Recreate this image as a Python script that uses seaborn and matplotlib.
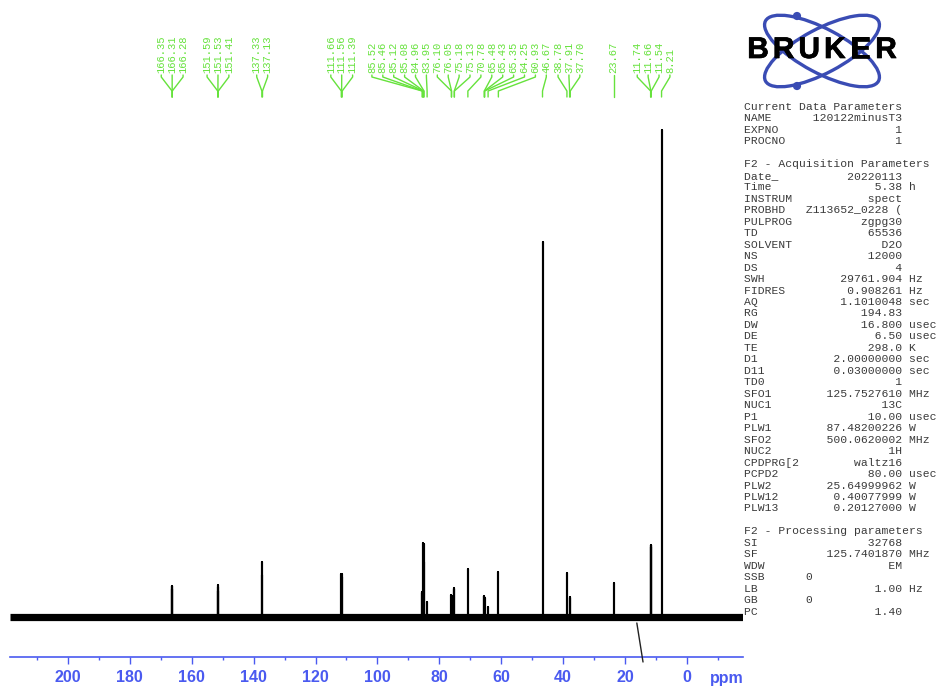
import numpy as np
import pandas as pd
import matplotlib
matplotlib.use("Agg")
import matplotlib.pyplot as plt
import matplotlib.patheffects as pe
import seaborn as sns
from matplotlib.patches import Ellipse, Circle

# ---------------- data ----------------
# picked peaks (ppm) and their intensities (arbitrary units, baseline = 0)
peak_ppm = [166.35, 166.31, 166.28, 151.59, 151.53, 151.41, 137.33, 137.13,
            111.66, 111.56, 111.39, 85.52, 85.46, 85.12, 85.08, 84.96, 83.95,
            76.10, 76.05, 75.18, 75.13, 70.78, 65.48, 65.43, 65.35, 64.25,
            60.93, 46.67, 38.78, 37.91, 37.70, 23.67, 11.74, 11.66, 11.54, 8.21]
peak_int = [31, 31, 28, 32, 30, 26, 55, 42,
            43, 43, 40, 25, 24, 74, 73, 55, 15,
            22, 21, 29, 28, 48, 21, 21, 19, 10,
            45, 375, 44, 20, 19, 34, 72, 72, 70, 487]

ppm_major = [200, 180, 160, 140, 120, 100, 80, 60, 40, 20, 0]
ppm_minor = [210, 190, 170, 150, 130, 110, 90, 70, 50, 30, 10, -10]
ppm_range = (218.7, -18.1)

acq_info = [
    ("Current Data Parameters", None, None),
    ("NAME", "120122minusT3", ""),
    ("EXPNO", "1", ""),
    ("PROCNO", "1", ""),
    ("", None, None),
    ("F2 - Acquisition Parameters", None, None),
    ("Date_", "20220113", ""),
    ("Time", "5.38", "h"),
    ("INSTRUM", "spect", ""),
    ("PROBHD", "Z113652_0228 (", ""),
    ("PULPROG", "zgpg30", ""),
    ("TD", "65536", ""),
    ("SOLVENT", "D2O", ""),
    ("NS", "12000", ""),
    ("DS", "4", ""),
    ("SWH", "29761.904", "Hz"),
    ("FIDRES", "0.908261", "Hz"),
    ("AQ", "1.1010048", "sec"),
    ("RG", "194.83", ""),
    ("DW", "16.800", "usec"),
    ("DE", "6.50", "usec"),
    ("TE", "298.0", "K"),
    ("D1", "2.00000000", "sec"),
    ("D11", "0.03000000", "sec"),
    ("TD0", "1", ""),
    ("SFO1", "125.7527610", "MHz"),
    ("NUC1", "13C", ""),
    ("P1", "10.00", "usec"),
    ("PLW1", "87.48200226", "W"),
    ("SFO2", "500.0620002", "MHz"),
    ("NUC2", "1H", ""),
    ("CPDPRG[2", "waltz16", ""),
    ("PCPD2", "80.00", "usec"),
    ("PLW2", "25.64999962", "W"),
    ("PLW12", "0.40077999", "W"),
    ("PLW13", "0.20127000", "W"),
    ("", None, None),
    ("F2 - Processing parameters", None, None),
    ("SI", "32768", ""),
    ("SF", "125.7401870", "MHz"),
    ("WDW", "EM", ""),
    ("SSB", "0", "left"),
    ("LB", "1.00", "Hz"),
    ("GB", "0", "left"),
    ("PC", "1.40", ""),
]

# ---------------- style ----------------
sns.set_style("white")
plt.rcParams["font.family"] = ["Liberation Sans", "DejaVu Sans"]

GREEN = "#66e23c"
AXBLUE = "#4a5af0"
LOGOBLUE = "#3a4cb4"
W, H = 937, 686

fig = plt.figure(figsize=(W / 100, H / 100), dpi=100)

def fpos(x0, y0, x1, y1):
    """pixel box (top-left origin) -> figure fraction rect"""
    return [x0 / W, 1 - y1 / H, (x1 - x0) / W, (y1 - y0) / H]

# ---------------- spectrum ----------------
ax = fig.add_axes(fpos(10, 20, 743, 657))
ax.set_xlim(*ppm_range)
ax.set_ylim(-40, 597)

# baseline (noise band)
ax.plot(list(ppm_range), [0, 0], color="black", lw=5.2, solid_capstyle="butt", zorder=2)

# peaks as sticks rising from the baseline
rows = []
for p, h in zip(peak_ppm, peak_int):
    rows += [(p, 0.0), (p, float(h)), (p, 0.0)]
spec = pd.DataFrame(rows, columns=["ppm", "intensity"])
sns.lineplot(data=spec, x="ppm", y="intensity", sort=False, estimator=None,
             color="black", lw=1.5, ax=ax, zorder=3)

# stray line crossing the axis
ax.plot([16.2, 14.2], [-6, -45], color="#222222", lw=1.0, clip_on=False, zorder=3)

# ---------------- peak labels ----------------
px_per_ppm = (743 - 10) / (ppm_range[0] - ppm_range[1])
gap = 10.9 / px_per_ppm
order = sorted(peak_ppm, reverse=True)
clusters = []  # each: list of ppm values
for p in order:
    clusters.append([p])
    while len(clusters) > 1:
        a, b = clusters[-2], clusters[-1]
        ca = np.mean(a); cb = np.mean(b)
        a_right = ca - (len(a) - 1) / 2 * gap
        b_left = cb + (len(b) - 1) / 2 * gap
        if a_right - b_left < gap:
            clusters[-2:] = [a + b]
        else:
            break
label_pos = []
for c in clusters:
    cen = np.mean(c)
    n = len(c)
    for i in range(n):
        label_pos.append(cen + ((n - 1) / 2 - i) * gap)

for p, lx in zip(order, label_pos):
    ax.text(lx, 544, f"{p:.2f}", rotation=90, ha="center", va="bottom",
            family=["Liberation Mono", "DejaVu Sans Mono"], size=7.6, color=GREEN)
    ax.plot([lx, lx, p, p], [542, 540, 526, 520], color=GREEN, lw=1.0)

# ---------------- axis ----------------
for s in ["top", "left", "right"]:
    ax.spines[s].set_visible(False)
ax.spines["bottom"].set_color(AXBLUE)
ax.spines["bottom"].set_linewidth(1.2)
ax.set_yticks([])
ax.set_xticks(ppm_major)
ax.set_xticks(ppm_minor, minor=True)
ax.set_xticklabels([str(v) for v in ppm_major], fontweight="bold", fontsize=11.5)
ax.tick_params(axis="x", which="both", bottom=True, direction="out")
ax.tick_params(axis="x", which="major", length=5, width=1, color=AXBLUE,
               labelcolor=AXBLUE, pad=4)
ax.tick_params(axis="x", which="minor", length=2.2, width=1, color=AXBLUE)
ax.set_xlabel("")
ax.set_ylabel("")
fig.text(727 / W, 1 - 678 / H, "ppm", ha="center", va="center",
         color=AXBLUE, fontweight="bold", fontsize=11.5)

# ---------------- parameter block ----------------
for i, (name, value, unit) in enumerate(acq_info):
    if value is None:
        line = name
    elif unit == "left":
        line = name.ljust(9) + value
    else:
        line = name.ljust(23 - len(value)) + value
        if unit:
            line += " " + unit
    if not line:
        continue
    y = 107 + i * 11.47
    fig.text(744 / W, 1 - y / H, line, ha="left", va="center",
             family=["Liberation Mono", "DejaVu Sans Mono"], size=8.2, color="#3a3a3a")

# ---------------- logo ----------------
lax = fig.add_axes(fpos(740, 0, 900, 95))
lax.set_xlim(740, 900)
lax.set_ylim(95, 0)
lax.axis("off")
for ang in (28, -28):
    lax.add_patch(Ellipse((822, 51), 128, 44, angle=ang, fill=False,
                          edgecolor=LOGOBLUE, lw=2.4))
lax.add_patch(Circle((797, 16), 3.4, color=LOGOBLUE))
lax.add_patch(Circle((797, 86), 3.4, color=LOGOBLUE))
for k, ch in enumerate("BRUKER"):
    lax.text(758 + k * 25.6, 50, ch, ha="center", va="center", fontsize=21.5,
             fontweight="bold", family=["Liberation Sans", "DejaVu Sans"],
             color="black", zorder=5,
             path_effects=[pe.withStroke(linewidth=0.5, foreground="black")])

fig.savefig("out.png", dpi=100)
